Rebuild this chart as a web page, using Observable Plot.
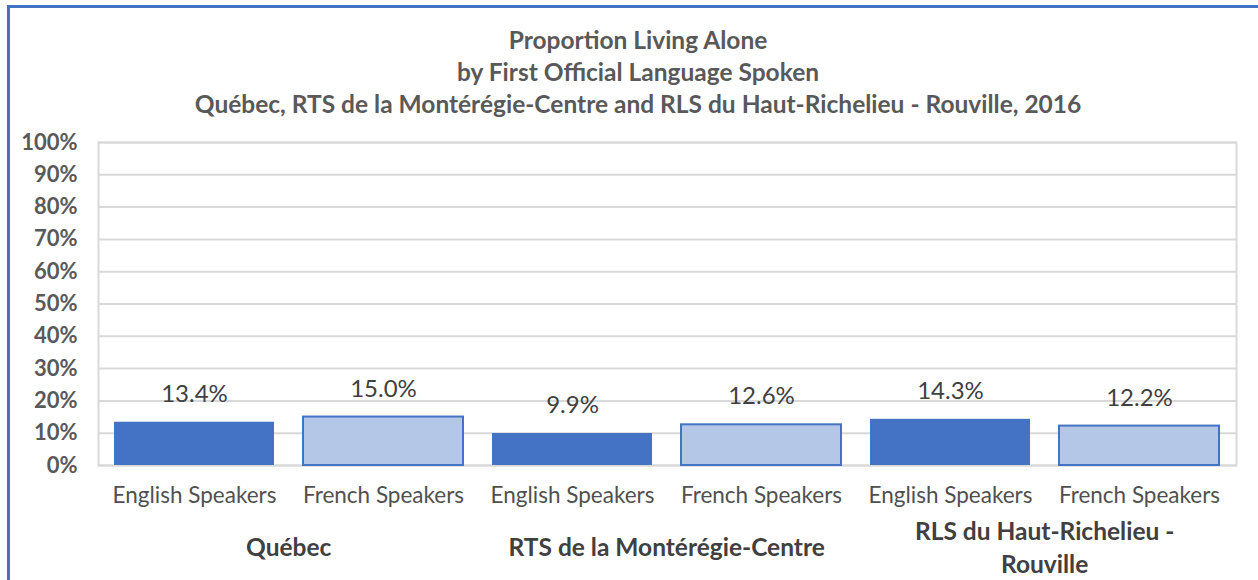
<!DOCTYPE html>
<html>
<head>
<meta charset="utf-8">
<script src="https://cdn.jsdelivr.net/npm/d3@7"></script>
<script src="https://cdn.jsdelivr.net/npm/@observablehq/plot@0.6"></script>
<style>
  html, body { margin: 0; padding: 0; background: #fff; }
  #wrap { position: relative; width: 1258px; height: 580px; overflow: hidden; font-family: Lato, "Open Sans", sans-serif; }
  #border { position: absolute; left: 7px; top: 5px; right: -10px; bottom: -10px; border-top: 3px solid #4472C4; border-left: 3px solid #4472C4; }
  #title { position: absolute; top: 24px; left: 0; width: 1276px; text-align: center; color: #595959; font-weight: bold; font-size: 24.5px; line-height: 32px; }
  #chart { position: absolute; top: 125px; left: 0; }
</style>
</head>
<body>
<div id="wrap">
  <div id="border"></div>
  <div id="title">Proportion Living Alone<br>by First Official Language Spoken<br>Québec, RTS de la Montérégie-Centre and RLS du Haut-Richelieu - Rouville, 2016</div>
  <div id="chart"></div>
</div>
<script>
const groups = ["Québec", "RTS de la Montérégie-Centre", "RLS du Haut-Richelieu - Rouville"];
const groupLabels = ["Québec", "RTS de la Montérégie-Centre", "RLS du Haut-Richelieu -\nRouville"];
const languages = ["English Speakers", "French Speakers"];
const english = [13.4, 9.9, 14.3];
const french = [15.0, 12.6, 12.2];
const yTicks = [0, 10, 20, 30, 40, 50, 60, 70, 80, 90, 100];

const rows = [];
groups.forEach((g, i) => {
  rows.push({group: g, lang: languages[0], key: g + "|" + languages[0], value: english[i]});
  rows.push({group: g, lang: languages[1], key: g + "|" + languages[1], value: french[i]});
});
const groupRows = groups.map((g, i) => ({label: groupLabels[i], key: g + "|" + languages[1]}));

const W = 1258, H = 455, ML = 98, MR = 22, MT = 17, MB = 115;
const step = (W - ML - MR) / rows.length;

const plot = Plot.plot({
  width: W, height: H,
  marginLeft: ML, marginRight: MR, marginTop: MT, marginBottom: MB,
  style: {fontFamily: "Lato, 'Open Sans', sans-serif", background: "transparent", overflow: "visible"},
  x: {domain: rows.map(d => d.key), paddingInner: 0.153, paddingOuter: 0.0765, axis: null, label: null},
  y: {domain: [0, 100], axis: null, label: null},
  marks: [
    Plot.ruleY(yTicks, {stroke: "#d9d9d9", strokeWidth: 2}),
    Plot.frame({stroke: "#d9d9d9", strokeWidth: 2}),
    Plot.barY(rows, {x: "key", y: "value",
      fill: d => d.lang === languages[0] ? "#4472C4" : "#B4C7E7",
      stroke: d => d.lang === languages[0] ? "none" : "#4472C4",
      strokeWidth: 2}),
    Plot.text(rows, {x: "key", y: "value", text: d => d.value.toFixed(1) + "%",
      dy: -28, fontSize: 24, fill: "#404040"}),
    Plot.axisY(yTicks, {tickSize: 0, tickPadding: 21, tickFormat: d => d + "%", label: null,
      fontSize: 22, fontWeight: "bold", fill: "#595959"}),
    Plot.axisX({tickSize: 0, tickPadding: 22, tickFormat: k => k.split("|")[1], label: null,
      fontSize: 22.5, fill: "#505050"}),
    Plot.text(groupRows, {x: "key", text: "label", frameAnchor: "bottom", lineAnchor: "middle",
      dx: -step / 2, dy: 80, lineHeight: 1.35, fontSize: 24.5, fontWeight: "bold", fill: "#404040"})
  ]
});
document.getElementById("chart").appendChild(plot);
</script>
</body>
</html>
